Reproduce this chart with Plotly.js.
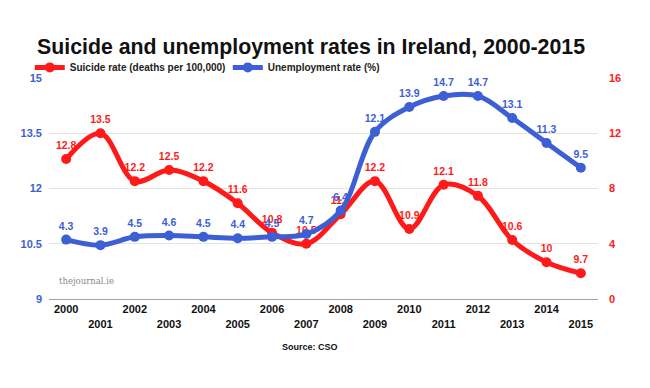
<!DOCTYPE html>
<html>
<head>
<meta charset="utf-8">
<script src="https://cdn.plot.ly/plotly-3.0.1.min.js"></script>
<style>html,body{margin:0;padding:0;background:#fff;}#chart{width:650px;height:388px;}</style>
</head>
<body>
<div id="chart"></div>
<script>
var years = [2000,2001,2002,2003,2004,2005,2006,2007,2008,2009,2010,2011,2012,2013,2014,2015];
var suicideRate = [12.8,13.5,12.2,12.5,12.2,11.6,10.8,10.5,11.3,12.2,10.9,12.1,11.8,10.6,10,9.7];
var unemploymentRate = [4.3,3.9,4.5,4.6,4.5,4.4,4.5,4.7,6.4,12.1,13.9,14.7,14.7,13.1,11.3,9.5];
var leftTicks = [9,10.5,12,13.5,15];
var rightTicks = [0,4,8,12,16];

var RED = '#ff1a1a';
var BLUE = '#3c5fd6';
var FONT = 'Liberation Sans, Arial, sans-serif';

var xTickText = years.map(function(y){ return (y % 2 === 0) ? String(y) : '<br>' + y; });

var traces = [
  {
    x: years, y: suicideRate, yaxis: 'y', name: 'Suicide rate (deaths per 100,000)',
    mode: 'lines+markers+text', type: 'scatter',
    line: {color: RED, width: 5, shape: 'spline', smoothing: 1},
    marker: {color: RED, size: 10},
    text: suicideRate.map(String), textposition: 'top center',
    textfont: {family: FONT, size: 10.5, color: RED, weight: 'bold'},
    hoverinfo: 'skip', cliponaxis: false
  },
  {
    x: years, y: unemploymentRate, yaxis: 'y2', name: 'Unemployment rate (%)',
    mode: 'lines+markers+text', type: 'scatter',
    line: {color: BLUE, width: 5, shape: 'spline', smoothing: 1},
    marker: {color: BLUE, size: 10},
    text: unemploymentRate.map(String), textposition: 'top center',
    textfont: {family: FONT, size: 10.5, color: BLUE, weight: 'bold'},
    hoverinfo: 'skip', cliponaxis: false
  }
];

var layout = {
  width: 650, height: 388,
  margin: {l: 49, r: 52, t: 78, b: 89},
  paper_bgcolor: '#fff', plot_bgcolor: '#fff',
  font: {family: FONT, color: '#222'},
  title: {
    text: '<b>Suicide and unemployment rates in Ireland, 2000-2015</b>',
    font: {family: FONT, size: 21.3, color: '#111'},
    x: 37/650, xanchor: 'left', xref: 'container', y: 1 - 47/388, yref: 'container', yanchor: 'middle'
  },
  showlegend: true,
  legend: {
    orientation: 'h', x: -0.035, xanchor: 'left', y: 1.048, yanchor: 'middle',
    font: {family: FONT, size: 10, color: '#222', weight: 'bold'},
    entrywidth: 153, entrywidthmode: 'pixels', bgcolor: 'rgba(0,0,0,0)', traceorder: 'normal'
  },
  xaxis: {
    range: [1999.5, 2015.5], tickmode: 'array', tickvals: years, ticktext: xTickText,
    showgrid: false, zeroline: false, showline: true, linecolor: '#a0a0a0', linewidth: 1,
    ticks: '', tickfont: {family: FONT, size: 11, color: '#111', weight: 'bold'}, fixedrange: true
  },
  yaxis: {
    range: [9, 15], tickmode: 'array', tickvals: leftTicks, ticktext: ['9','10.5','12','13.5','15'],
    showgrid: true, gridcolor: '#e4e4e4', gridwidth: 1, zeroline: false, showline: false,
    ticks: '', ticklabelstandoff: 6,
    tickfont: {family: FONT, size: 11, color: BLUE, weight: 'bold'}
  },
  yaxis2: {
    range: [0, 16], overlaying: 'y', side: 'right', tickmode: 'array', tickvals: rightTicks,
    showgrid: false, zeroline: false, showline: false, ticks: '', ticklabelstandoff: 10,
    tickfont: {family: FONT, size: 11, color: RED, weight: 'bold'}
  },
  annotations: [
    {text: 'thejournal.ie', xref: 'paper', yref: 'paper', x: 8/550, y: (299.3-281)/221.3,
     xanchor: 'left', yanchor: 'middle', showarrow: false,
     font: {family: 'DejaVu Serif, Liberation Serif, serif', size: 8.5, color: '#8a8a8a'}},
    {text: '<b>Source: CSO</b>', xref: 'paper', yref: 'paper', x: (310-49)/549, y: -(347-299.3)/221.3,
     xanchor: 'center', yanchor: 'middle', showarrow: false,
     font: {family: FONT, size: 9, color: '#111'}}
  ]
};

Plotly.newPlot('chart', traces, layout, {displayModeBar: false, staticPlot: true});
</script>
</body>
</html>
